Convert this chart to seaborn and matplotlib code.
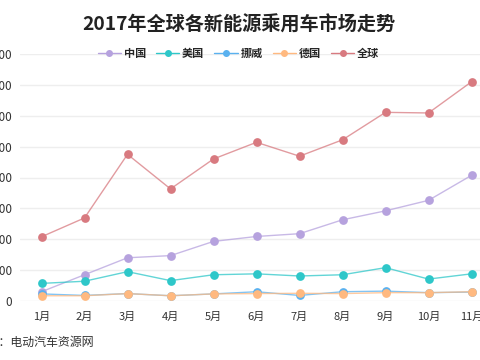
import pandas as pd
import matplotlib
matplotlib.use("Agg")
import matplotlib.pyplot as plt
from matplotlib.colors import to_rgba
import seaborn as sns

# data (monthly sales, 2017)
months = ["1月", "2月", "3月", "4月", "5月", "6月", "7月", "8月", "9月", "10月", "11月"]
china = [6000, 17000, 28000, 29400, 38600, 41800, 43600, 52600, 58400, 65200, 81400]
usa = [11400, 12800, 19000, 13200, 17000, 17600, 16200, 17000, 21600, 14200, 17600]
norway = [4600, 3600, 4800, 3400, 4600, 6000, 3600, 6000, 6400, 5400, 5800]
germany = [3400, 3400, 4800, 3400, 4600, 4800, 5000, 4800, 5400, 5400, 6000]
world = [41600, 53800, 95000, 72600, 92000, 102800, 93800, 104400, 122200, 121800, 142000]

series = {"中国": china, "美国": usa, "挪威": norway, "德国": germany, "全球": world}
colors = ["#b6a2de", "#2ec7c9", "#5ab1ef", "#ffb980", "#d87a80"]
y_ticks = list(range(0, 160001, 20000))

rows = []
for name, vals in series.items():
    for m, v in zip(months, vals):
        rows.append({"month": m, "value": v, "country": name})
df = pd.DataFrame(rows)

sns.set_style("white")
plt.rcParams["font.family"] = ["Noto Sans CJK SC", "DejaVu Sans"]

fig = plt.figure(figsize=(4.8, 3.6), dpi=100)
# axes deliberately runs past the right edge (the reference is cropped)
ax = fig.add_axes([20 / 480, 59 / 360, 516 / 480, 247 / 360])

sns.lineplot(data=df, x="month", y="value", hue="country", palette=colors,
             marker="o", markersize=6.3, markeredgewidth=0, linewidth=1.0,
             sort=False, ax=ax, legend=True)

# lines a little paler than the dots
for line, c in zip(ax.lines, colors):
    line.set_color(to_rgba(c, 0.75))
    line.set_markerfacecolor(c)

ax.set_xlim(-0.5, 11.5)
ax.set_ylim(0, 160000)
ax.set_yticks(y_ticks)
ax.set_yticklabels([str(t) for t in y_ticks])
ax.set_xticks(range(len(months)))
ax.set_xticklabels(months)
ax.grid(axis="y", color="#eeeeee", linewidth=1)
ax.set_axisbelow(True)
for s in ax.spines.values():
    s.set_visible(False)
ax.tick_params(axis="y", length=0, pad=5.5, labelsize=8.5, labelcolor="#333333")
ax.tick_params(axis="x", length=0, pad=8, labelsize=8, labelcolor="#333333")
ax.set_xlabel("")
ax.set_ylabel("")

handles, labels = ax.get_legend_handles_labels()
ax.get_legend().remove()
fig.legend(handles, labels, loc="center", bbox_to_anchor=(0.497, 1 - 53.5 / 360),
           ncol=5, frameon=False, handlelength=2.1, handletextpad=0.25,
           columnspacing=0.9, markerscale=0.8,
           prop={"size": 8, "weight": "bold"})

fig.text(0.498, 1 - 25 / 360, "2017年全球各新能源乘用车市场走势",
         ha="center", va="center", fontsize=13.8, fontweight="bold", color="#222222")
fig.text(-48 / 480, 1 - 342 / 360, "数据来源：电动汽车资源网",
         ha="left", va="center", fontsize=8.6, color="#333333")

fig.savefig("out.png", dpi=100)
